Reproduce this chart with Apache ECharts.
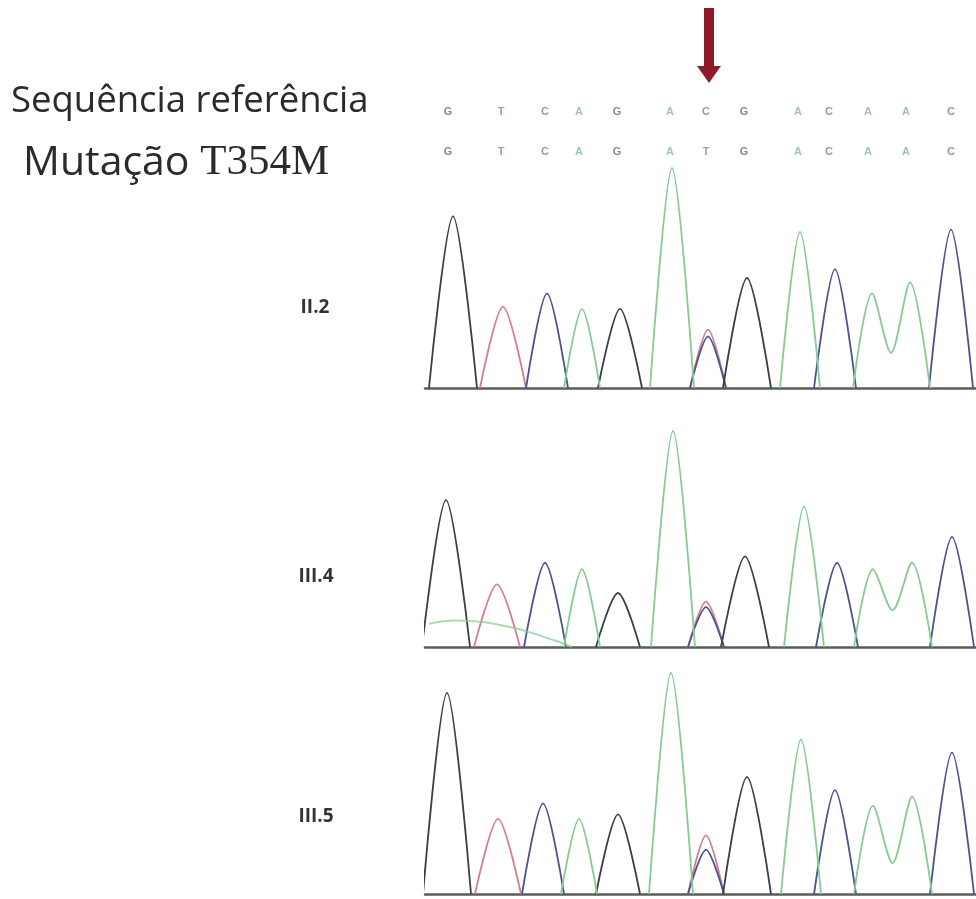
<!DOCTYPE html>
<html><head><meta charset="utf-8">
<script src="https://cdn.jsdelivr.net/npm/echarts@6/dist/echarts.min.js"></script>
<style>html,body{margin:0;padding:0;background:#fff}#c{width:976px;height:899px}</style>
</head><body><div id="c"></div>
<script>
// ---- data ----
const refSeq = ['G','T','C','A','G','A','C','G','A','C','A','A','C'];
const mutSeq = ['G','T','C','A','G','A','T','G','A','C','A','A','C'];
const basePos = [23,76,120,154,192,245,281,319,373,404,443,481,526];   // scan position of each called base
const halfWidth = [24,23,21,18,22,22,18,24,20,21,19,20,22];            // scans from apex to foot

// sample II.2
const p1Pos = [28,78,122,157,195,247,283,322,375,410,447,485,526];
const p1G = [780,0,0,0,360,0,0,500,0,0,0,0,0];
const p1A = [0,0,0,360,0,1000,0,0,710,0,430,480,0];
const p1C = [0,0,430,0,0,0,235,0,0,540,0,0,720];
const p1T = [0,370,0,0,0,0,265,0,0,0,0,0,0];
const p1Valley = 160;

// sample III.4
const p2Pos = [21,72,120,157,193,248,281,320,379,412,448,487,527];
const p2G = [680,0,0,0,250,0,0,420,0,0,0,0,0];
const p2A = [0,0,0,360,0,1000,0,0,650,0,360,390,0];
const p2C = [0,0,390,0,0,0,185,0,0,390,0,0,510];
const p2T = [0,290,0,0,0,0,210,0,0,0,0,0,0];
const p2Valley = 170;
const p2ADrift = [[4,108],[30,123],[85,93],[129,31],[147,0]];

// sample III.5
const p3Pos = [22,73,118,154,193,246,281,322,376,410,448,487,527];
const p3G = [910,0,0,0,360,0,0,530,0,0,0,0,0];
const p3A = [0,0,0,340,0,1000,0,0,700,0,400,440,0];
const p3C = [0,0,410,0,0,0,200,0,0,470,0,0,640];
const p3T = [0,340,0,0,0,0,265,0,0,0,0,0,0];
const p3Valley = 140;

const sampleNames = ['II.2','III.4','III.5'];
const rowNames = ['Mutação','Referência'];

// ---- styles ----
const traceColor = {G:'#3d3d47', A:'#86cc92', C:'#4d5192', T:'#d57f8c'};
const letterColor = {G:'#6a6a6a', A:'#86b98e', C:'#7c7c9c', T:'#a07c84'};

function peakGroups(pos, h, valley) {
  const groups = [];
  let i = 0;
  while (i < h.length) {
    if (!h[i]) { i++; continue; }
    const g = [[pos[i]-halfWidth[i], 0], [pos[i], h[i]]];
    while (i + 1 < h.length && h[i+1]) {
      g.push([(pos[i]+pos[i+1])/2, valley]);
      i++;
      g.push([pos[i], h[i]]);
    }
    g.push([pos[i]+halfWidth[i], 0]);
    groups.push(g);
    i++;
  }
  return groups;
}

const panels = [
  {pos:p1Pos, G:p1G, A:p1A, C:p1C, T:p1T, valley:p1Valley, drift:null},
  {pos:p2Pos, G:p2G, A:p2A, C:p2C, T:p2T, valley:p2Valley, drift:p2ADrift},
  {pos:p3Pos, G:p3G, A:p3A, C:p3C, T:p3T, valley:p3Valley, drift:null}
];
const panelBox = [{top:168,height:220},{top:431,height:216},{top:673,height:221}];

const grids = [{left:425, width:551, top:92, height:80}];
const xAxes = [{gridIndex:0, type:'value', min:0, max:551, show:false}];
const yAxes = [{gridIndex:0, type:'category', data:rowNames, show:false}];
const series = [];

panels.forEach((p, k) => {
  const gi = k + 1;
  grids.push({left:425, width:551, top:panelBox[k].top, height:panelBox[k].height});
  xAxes.push({gridIndex:gi, type:'value', min:0, max:551, axisLine:{show:true, onZero:false, lineStyle:{color:'#5c5c5c', width:2.5}},
              axisTick:{show:false}, axisLabel:{show:false}, splitLine:{show:false}});
  yAxes.push({gridIndex:gi, type:'value', min:0, max:1000, show:false, splitLine:{show:false}});
  ['T','C','G','A'].forEach(ch => {
    peakGroups(p.pos, p[ch], p.valley).forEach(g => {
      series.push({type:'line', xAxisIndex:gi, yAxisIndex:gi, data:g, smooth:0.3, symbol:'none', silent:true,
                   clip:false, lineStyle:{color:traceColor[ch], width:1.8}});
    });
  });
  if (p.drift) {
    series.push({type:'line', xAxisIndex:gi, yAxisIndex:gi, data:p.drift, smooth:0.4, symbol:'none', silent:true,
                 lineStyle:{color:traceColor.A, width:2, opacity:0.7}});
  }
});

function letterData(seq, row) {
  return seq.map((b, i) => ({name:b, value:[basePos[i], row], label:{color:letterColor[b]}}));
}
series.push({type:'scatter', xAxisIndex:0, yAxisIndex:0, symbolSize:1, itemStyle:{color:'rgba(0,0,0,0)'}, silent:true,
  data: letterData(refSeq, rowNames[1]).concat(letterData(mutSeq, rowNames[0])),
  label:{show:true, position:'inside', formatter:'{b}', fontSize:11, fontWeight:'bold', fontFamily:'Liberation Sans'}});

const chart = echarts.init(document.getElementById('c'), null, {renderer:'canvas'});
chart.setOption({
  animation:false,
  backgroundColor:'#ffffff',
  grid:grids, xAxis:xAxes, yAxis:yAxes, series:series,
  graphic:[
    {type:'text', x:11, y:102, style:{text:'Sequência referência', font:'36.5px "Open Sans"', fill:'#2b2b2b', verticalAlign:'middle'}},
    {type:'text', x:23, y:163, style:{text:'{a|Mutação }{b|T354M}', verticalAlign:'middle',
       rich:{a:{font:'41px "Open Sans"', fill:'#2b2b2b'}, b:{font:'43px "Liberation Serif"', fill:'#2b2b2b'}}}},
    {type:'rect', shape:{x:704, y:8, width:10, height:62}, style:{fill:'#8e1b27'}},
    {type:'polygon', shape:{points:[[697,66],[721,66],[709,83]]}, style:{fill:'#8e1b27'}},
    {type:'text', x:315, y:308, style:{text:sampleNames[0], font:'bold 19px "Open Sans"', fill:'#333', align:'center', verticalAlign:'middle'}},
    {type:'text', x:316, y:577, style:{text:sampleNames[1], font:'bold 19px "Open Sans"', fill:'#333', align:'center', verticalAlign:'middle'}},
    {type:'text', x:316, y:817, style:{text:sampleNames[2], font:'bold 19px "Open Sans"', fill:'#333', align:'center', verticalAlign:'middle'}}
  ]
});
</script>
</body></html>
